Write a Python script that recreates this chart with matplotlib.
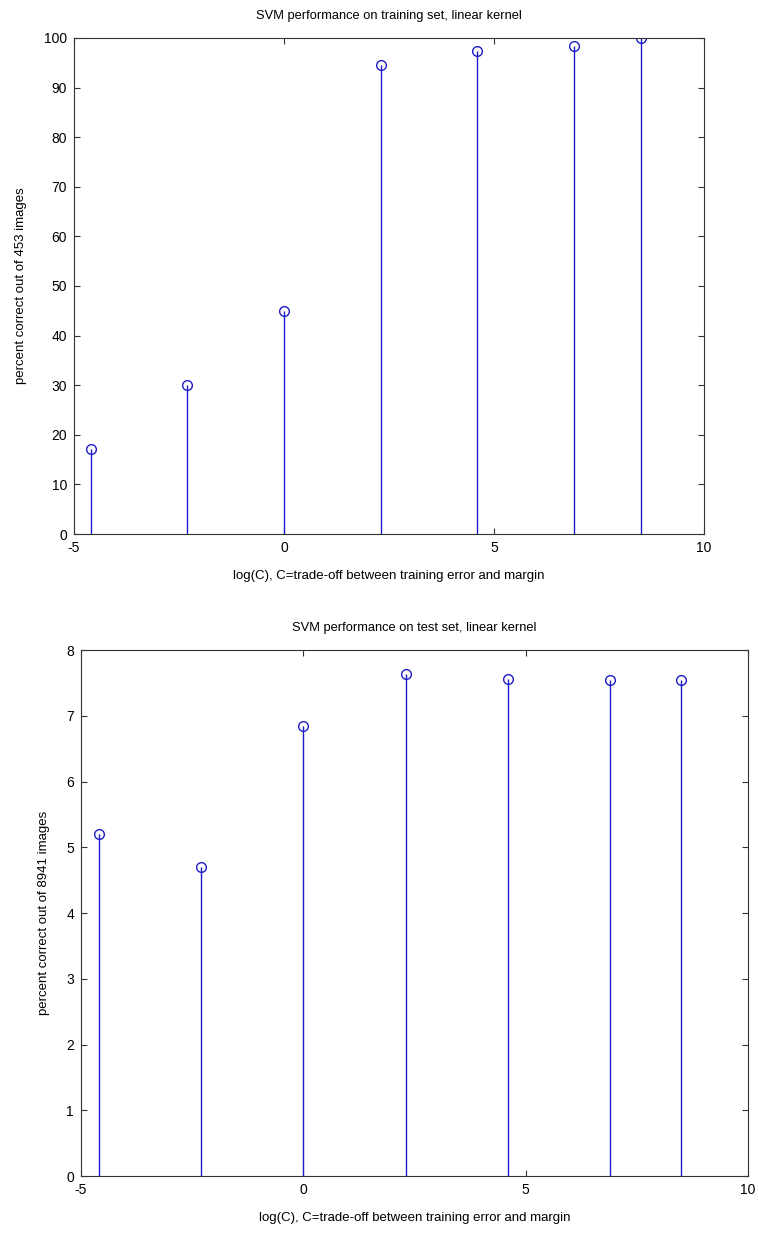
# SVM performance vs log(C), training and test sets
import matplotlib.pyplot as plt

plt.rcParams['font.family'] = ['Liberation Sans', 'DejaVu Sans']
plt.rcParams['font.size'] = 9
plt.rcParams['axes.unicode_minus'] = False

log_c = [-4.6, -2.3, 0.0, 2.3, 4.6, 6.9, 8.5]
train_pct = [17.1, 30.0, 45.0, 94.5, 97.4, 98.3, 100.0]
test_pct = [5.2, 4.7, 6.84, 7.63, 7.56, 7.54, 7.54]

x_ticks = [-5, 0, 5, 10]
xlabel = "log(C), C=trade-off between training error and margin"

fig = plt.figure(figsize=(7.58, 12.33), dpi=100)
ax1 = fig.add_axes([0.0976, 0.5669, 0.831, 0.4023])
ax2 = fig.add_axes([0.1069, 0.0462, 0.880, 0.4266])

blue = "#1c1cc8"

def draw(ax, y, ylim, yticks, title, ylabel):
    m, s, b = ax.stem(log_c, y, basefmt=" ")
    plt.setp(s, color=blue, linewidth=1.0)
    plt.setp(m, color=blue, markerfacecolor="none", markersize=7, markeredgewidth=1.0)
    ax.set_xlim(-5, 10)
    ax.set_ylim(*ylim)
    ax.set_xticks(x_ticks)
    ax.set_yticks(yticks)
    ax.tick_params(direction="in", top=True, right=True, length=4, color="#333333",
                   labelsize=10)
    ax.tick_params(axis="x", pad=5)
    ax.tick_params(axis="y", pad=5)
    for sp in ax.spines.values():
        sp.set_color("#333333")
    ax.set_title(title, fontsize=9.3, pad=14)
    ax.set_xlabel(xlabel, fontsize=9.5, labelpad=11)
    ax.set_ylabel(ylabel, fontsize=9.5, labelpad=12)

draw(ax1, train_pct, (0, 100), range(0, 101, 10),
     "SVM performance on training set, linear kernel",
     "percent correct out of 453 images")
draw(ax2, test_pct, (0, 8), range(0, 9),
     "SVM performance on test set, linear kernel",
     "percent correct out of 8941 images")

fig.savefig("out.png", dpi=100)
